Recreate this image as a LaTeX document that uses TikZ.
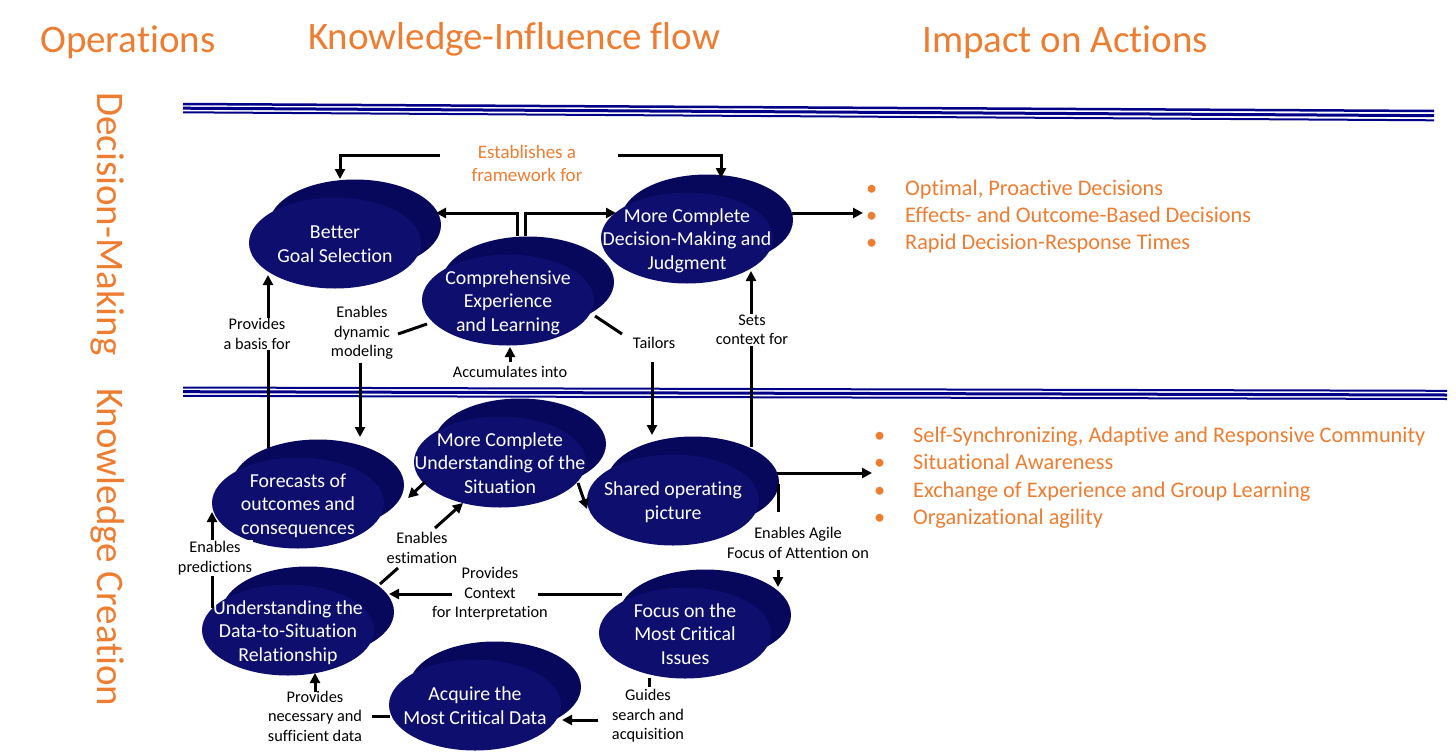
\documentclass[tikz,border=0pt]{standalone}
\usepackage{fontspec}
\setmainfont{Carlito}[Ligatures=NoCommon]
\usetikzlibrary{arrows.meta,shapes.geometric,shadows}
\definecolor{orng}{HTML}{ED7D31}
\definecolor{blobfront}{HTML}{0E0E6E}
\definecolor{blobback}{HTML}{07075C}
\definecolor{rulecol}{HTML}{000088}
\pgfdeclarelayer{fg}
\pgfsetlayers{main,fg}
\newcommand\blobtxt[1]{\raisebox{-8pt}[0pt][0pt]{\makebox[0pt]{\begin{tabular}{@{}c@{}}#1\end{tabular}}}}
\begin{document}
\begin{tikzpicture}[x=1pt,y=-1pt,
 blob/.style={ellipse, fill=blobfront, minimum width=172pt, minimum height=91pt, inner sep=0pt, text=white, font=\fontsize{19.8}{23.5}\selectfont, copy shadow={shadow xshift=20pt, shadow yshift=18pt, fill=blobback, draw=none}},
 lbl/.style={align=center, font=\fontsize{16.3}{19.5}\selectfont, inner sep=1pt},
 wlbl/.style={lbl, fill=white},
 conn/.style={line width=3pt, draw=black},
 arr/.style={conn, -{Triangle[length=10pt,width=10pt]}},
 title/.style={text=orng, font=\fontsize{39}{45}\selectfont, inner sep=0pt},
 bul/.style={text=orng, font=\fontsize{22.3}{27}\selectfont, anchor=base west, inner sep=0pt},
 rl/.style={draw=rulecol}
]
\useasboundingbox (0,0) rectangle (1456,755);

% titles
\node[title, anchor=base west] (t1) at (40,52) {Operations};
\node[title, anchor=base west] (t2) at (308,49) {Knowledge-Influence flow};
\node[title, anchor=base west] (t3) at (922,52) {Impact on Actions};
\node[title, rotate=-90, anchor=base west] (s1) at (97,92) {Decision-Making};
\node[title, rotate=-90, anchor=base west] (s2) at (97,388) {Knowledge Creation};

% rules
\draw[rl, line width=2.5pt] (183,104) -- (1434,111);
\draw[rl, line width=3pt] (183,108.2) -- (1434,115.7);
\draw[rl, line width=2pt] (183,112.3) -- (1434,120.3);
\draw[rl, line width=2pt] (183,387.5) -- (1447,390.8);
\draw[rl, line width=3pt] (183,391.7) -- (1447,395);
\draw[rl, line width=2pt] (183,395.8) -- (1447,399);

% blobs
\node[blob] (better) at (335,243) {\blobtxt{Better\\Goal Selection}};
\node[blob] (dmj) at (687,238) {\blobtxt{More Complete\\Decision-Making and\\Judgment}};
\node[blob] (comp) at (508,300) {\blobtxt{Comprehensive\\Experience\\and Learning}};
\node[blob] (sit) at (500,462) {\blobtxt{More Complete\\Understanding of the\\Situation}};
\node[blob] (sop) at (673,500) {\blobtxt{Shared operating\\picture}};
\node[blob] (fore) at (298,503) {\blobtxt{Forecasts of\\outcomes and\\consequences}};
\node[blob] (dts) at (288,630) {\blobtxt{Understanding the\\Data-to-Situation\\Relationship}};
\node[blob] (acq) at (475,705) {\blobtxt{Acquire the\\Most Critical Data}};
\node[blob] (foc) at (685,633) {\blobtxt{Focus on the\\Most Critical\\Issues}};

% labels
\begin{pgfonlayer}{fg}
\node[lbl, text=orng, font=\fontsize{19}{23}\selectfont] (est) at (527,163) {Establishes a\\framework for};
\node[wlbl] (basis) at (257,334) {Provides\\a basis for};
\node[lbl] (dyn) at (362,333) {Enables\\dynamic\\modeling};
\node[lbl] (acc) at (510,372) {Accumulates into};
\node[lbl] (tail) at (654,343) {Tailors};
\node[wlbl] (ctxset) at (752,330) {Sets\\context for};
\node[lbl] (agile) at (798,543) {Enables Agile\\Focus of Attention on};
\node[lbl] (ctx) at (490,594) {Provides\\Context\\for Interpretation};
\node[lbl] (estim) at (422,548) {Enables\\estimation};
\node[wlbl] (pred) at (215,558) {Enables\\predictions};
\node[lbl] (nec) at (315,716) {Provides\\necessary and\\sufficient data};
\node[lbl] (guide) at (648,716) {Guides\\search and\\acquisition};
\end{pgfonlayer}

% connectors
\draw[arr] ([shift={(-87,-8)}]est.center) -| ([shift={(5,-64)}]better.center);
\draw[arr] ([shift={(91,-8)}]est.center) -| ([shift={(34,-60)}]dmj.center);
\draw[arr] ([shift={(9,-64)}]comp.center) |- ([shift={(101,-30)}]better.center);
\draw[arr] ([shift={(17,-64)}]comp.center) |- ([shift={(-71,-25)}]dmj.center);
\coordinate (outtop) at (863,213);
\draw[arr] ([shift={(105,-25)}]dmj.center) -- (outtop);
\draw[arr] ([shift={(-30,-55)}]fore.center) -- ([shift={(-67,32)}]better.center);
\draw[conn] ([shift={(-81,24)}]comp.center) -- ([shift={(36,1)}]dyn.center);
\draw[arr] ([shift={(-2,30)}]dyn.center) -- ([shift={(62,-66)}]fore.center);
\draw[arr] ([shift={(0,-10)}]acc.center) -- ([shift={(2,47)}]comp.center);
\draw[conn] ([shift={(87,16)}]comp.center) -- ([shift={(-32,-9)}]tail.center);
\draw[arr] ([shift={(-2,19)}]tail.center) -- ([shift={(-21,-65)}]sop.center);
\draw[arr] ([shift={(78,-53)}]sop.center) -- ([shift={(64,33)}]dmj.center);
\coordinate (outbot) at (872,473);
\draw[arr] ([shift={(104,-27)}]sop.center) -- (outbot);
\draw[conn] ([shift={(105,-16)}]sop.center) -- ([shift={(-20,-31)}]agile.center);
\draw[arr] ([shift={(-20,27)}]agile.center) -- ([shift={(93,-46)}]foc.center);
\draw[conn] ([shift={(-63,-39)}]foc.center) -- ([shift={(48,0)}]ctx.center);
\draw[arr] ([shift={(-38,0)}]ctx.center) -- ([shift={(101,-36)}]dts.center);
\draw[conn] ([shift={(92,-46)}]dts.center) -- ([shift={(-24,20)}]estim.center);
\draw[arr] ([shift={(13,-20)}]estim.center) -- ([shift={(-37,41)}]sit.center);
\draw[arr] ([shift={(-75,20)}]sit.center) -- ([shift={(110,-5)}]fore.center);
\draw[arr] ([shift={(78,21)}]sit.center) -- ([shift={(-86,9)}]sop.center);
\draw[arr] ([shift={(-76,-22)}]dts.center) -- ([shift={(-86,9)}]fore.center);
\draw[conn] ([shift={(-85,11)}]acq.center) -- ([shift={(57,0)}]nec.center);
\draw[arr] ([shift={(0,-24)}]nec.center) -- ([shift={(27,43)}]dts.center);
\draw[conn] ([shift={(-36,45)}]foc.center) -- ([shift={(1,-29)}]guide.center);
\draw[arr] ([shift={(-50,4)}]guide.center) -- ([shift={(87,15)}]acq.center);

% impact bullets
\node[bul] (i1) at (866,195) {\makebox[39pt][l]{•}Optimal, Proactive Decisions};
\node[bul] (i2) at (866,222) {\makebox[39pt][l]{•}Effects- and Outcome-Based Decisions};
\node[bul] (i3) at (866,249) {\makebox[39pt][l]{•}Rapid Decision-Response Times};
\node[bul] (k1) at (874,442) {\makebox[39pt][l]{•}Self-Synchronizing, Adaptive and Responsive Community};
\node[bul] (k2) at (874,469) {\makebox[39pt][l]{•}Situational Awareness};
\node[bul] (k3) at (874,497) {\makebox[39pt][l]{•}Exchange of Experience and Group Learning};
\node[bul] (k4) at (874,524) {\makebox[39pt][l]{•}Organizational agility};
\end{tikzpicture}
\end{document}
